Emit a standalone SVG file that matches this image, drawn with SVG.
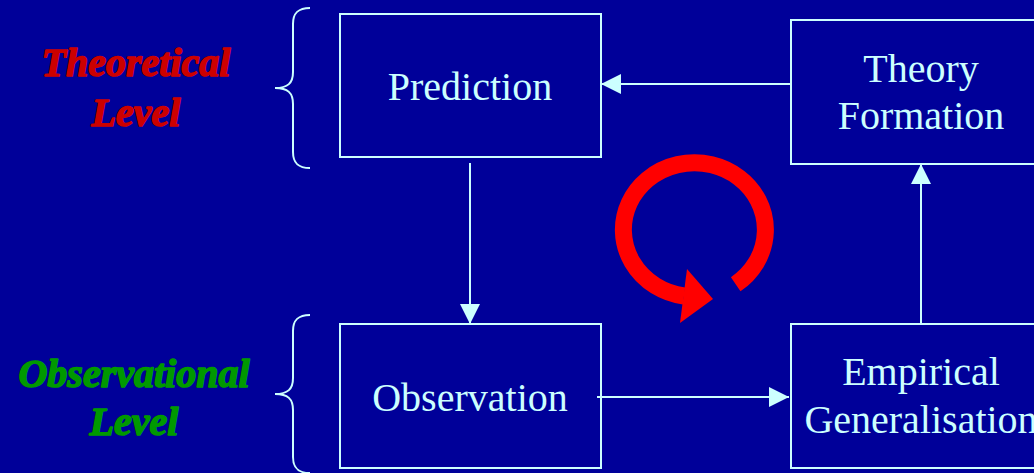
<svg xmlns="http://www.w3.org/2000/svg" width="1034" height="473" viewBox="0 0 1034 473">
<defs>
<style>
.box{fill:none;stroke:#CCFFFF;stroke-width:2}
.lbl{font-family:"Liberation Serif","Times New Roman",serif;font-size:40px;fill:#CCFFFF;text-anchor:middle}
.lvl{font-family:"Liberation Serif","Times New Roman",serif;font-size:40px;font-weight:bold;font-style:italic;text-anchor:middle;stroke-width:1.6;stroke-linejoin:round}
.con{stroke:#CCFFFF;stroke-width:2;fill:none}
.brace{stroke:#CCFFFF;stroke-width:2;fill:none}
</style>
<marker id="ah" viewBox="0 0 20 20" refX="20" refY="10" markerWidth="20" markerHeight="20" markerUnits="userSpaceOnUse" orient="auto">
<path d="M0,0 L20,10 L0,20 Z" fill="#CCFFFF"/>
</marker>
</defs>
<rect width="1034" height="473" fill="#000099"/>

<g id="theoretical-level">
<text class="lvl" x="136" y="76" fill="#CC0000" stroke="#CC0000">Theoretical</text>
<text class="lvl" x="136" y="126" fill="#CC0000" stroke="#CC0000">Level</text>
<path class="brace" d="M310,8 C298,8 293,13 293,24 L293,72 C293,83 288,88 275,88 C288,88 293,93 293,104 L293,152 C293,163 298,168 310,168"/>
</g>

<g id="observational-level">
<text class="lvl" x="134" y="387" fill="#009900" stroke="#009900">Observational</text>
<text class="lvl" x="134" y="435" fill="#009900" stroke="#009900">Level</text>
<path class="brace" d="M310,315 C298,315 293,320 293,331 L293,378 C293,389 288,394 275,394 C288,394 293,399 293,410 L293,457 C293,468 298,473 310,473"/>
</g>

<g id="prediction">
<rect class="box" x="340" y="14" width="261" height="143"/>
<text class="lbl" x="470" y="100">Prediction</text>
</g>

<g id="theory-formation">
<rect class="box" x="791" y="20" width="260" height="144"/>
<text class="lbl" x="921" y="82">Theory</text>
<text class="lbl" x="921" y="129">Formation</text>
</g>

<g id="observation">
<rect class="box" x="340" y="324" width="261" height="144"/>
<text class="lbl" x="470" y="411">Observation</text>
</g>

<g id="empirical-generalisation">
<rect class="box" x="791" y="324" width="260" height="144"/>
<text class="lbl" x="921" y="385">Empirical</text>
<text class="lbl" x="921" y="433">Generalisation</text>
</g>

<g id="connectors">
<line class="con" x1="791" y1="84" x2="601" y2="84" marker-end="url(#ah)"/>
<line class="con" x1="470" y1="163" x2="470" y2="324" marker-end="url(#ah)"/>
<line class="con" x1="597" y1="397" x2="789" y2="397" marker-end="url(#ah)"/>
<line class="con" x1="921" y1="324" x2="921" y2="164" marker-end="url(#ah)"/>
</g>

<g id="cycle">
<path d="M735.7,284.2 A71,67 0 1 0 684,296" fill="none" stroke="#FF0000" stroke-width="17"/>
<path d="M687,269 L713,299 L680,323 Z" fill="#FF0000"/>
</g>
</svg>
